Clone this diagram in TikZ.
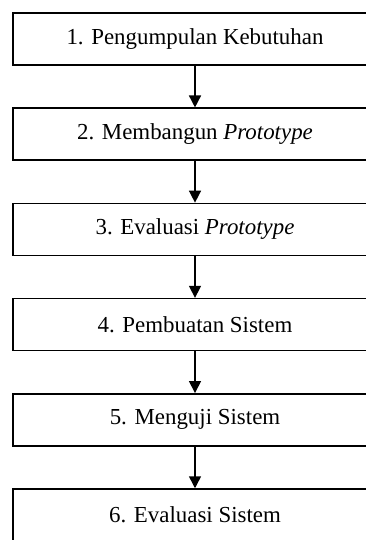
\documentclass[tikz,border=0pt]{standalone}
\usepackage{fontspec}
\setmainfont{Liberation Serif}
\usetikzlibrary{arrows.meta}
\tikzset{
  stepbox/.style={draw, line width=1.5pt, minimum width=364pt, minimum height=52pt,
    inner sep=0pt, font=\fontsize{22.9}{27}\selectfont},
  flow/.style={line width=1.5pt, -{Triangle[length=12pt,width=12pt]}}
}
\begin{document}
\begin{tikzpicture}[x=1pt,y=1pt]
      \useasboundingbox (0,0) rectangle (365,-540);
      \draw
        (195,-39) node[stepbox] (1){1. Pengumpulan Kebutuhan}
        (195,-134.2) node[stepbox] (2){2. Membangun \textit{Prototype}}
        (195,-229.4) node[stepbox] (3){3. Evaluasi \textit{Prototype}}
        (195,-324.6) node[stepbox] (4){4. Pembuatan Sistem}
        (195,-419.8) node[stepbox] (5){5. Menguji Sistem}
        (195,-515) node[stepbox] (6){6. Evaluasi Sistem};
      \begin{scope}[flow]
        \draw (1) to (2);
        \draw (2) to (3);
        \draw (3) to (4);
        \draw (4) to (5);
        \draw (5) to (6);
      \end{scope}
    \end{tikzpicture}
\end{document}
